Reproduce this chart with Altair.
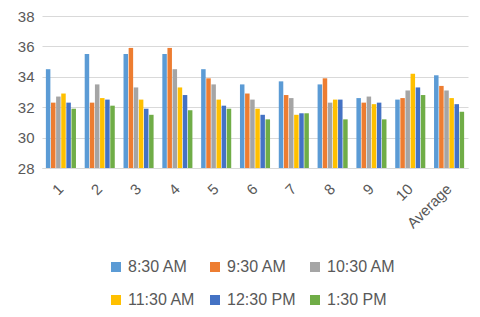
import altair as alt
import pandas as pd

categories = ["1", "2", "3", "4", "5", "6", "7", "8", "9", "10", "Average"]
series = ["8:30 AM", "9:30 AM", "10:30 AM", "11:30 AM", "12:30 PM", "1:30 PM"]
colors = ["#5B9BD5", "#ED7D31", "#A5A5A5", "#FFC000", "#4472C4", "#70AD47"]
v_0830 = [34.5, 35.5, 35.5, 35.5, 34.5, 33.5, 33.7, 33.5, 32.6, 32.5, 34.1]
v_0930 = [32.3, 32.3, 35.9, 35.9, 33.9, 32.9, 32.8, 33.9, 32.3, 32.6, 33.4]
v_1030 = [32.7, 33.5, 33.3, 34.5, 33.5, 32.5, 32.6, 32.3, 32.7, 33.1, 33.1]
v_1130 = [32.9, 32.6, 32.5, 33.3, 32.5, 31.9, 31.5, 32.5, 32.2, 34.2, 32.6]
v_1230 = [32.3, 32.5, 31.9, 32.8, 32.1, 31.5, 31.6, 32.5, 32.3, 33.3, 32.2]
v_1330 = [31.9, 32.1, 31.5, 31.8, 31.9, 31.2, 31.6, 31.2, 31.2, 32.8, 31.7]
y_ticks = [28, 30, 32, 34, 36, 38]

all_vals = [v_0830, v_0930, v_1030, v_1130, v_1230, v_1330]
rows = []
for s, vals in zip(series, all_vals):
    for c, v in zip(categories, vals):
        rows.append({"cat": c, "series": s, "value": v})
df = pd.DataFrame(rows)

FONT = "Liberation Sans"
GRAY = "#595959"

chart = alt.Chart(df).mark_bar().encode(
    x=alt.X("cat:N", sort=categories, title=None,
            scale=alt.Scale(paddingInner=0.225, paddingOuter=0.1),
            axis=alt.Axis(labelAngle=-45, labelAlign="right", labelBaseline="middle",
                          labelFont=FONT, labelFontSize=15, labelColor=GRAY,
                          labelPadding=18, ticks=False, domainColor="#D9D9D9",
                          domainWidth=1)),
    xOffset=alt.XOffset("series:N", sort=series,
                        scale=alt.Scale(paddingInner=0.12)),
    y=alt.Y("value:Q", title=None,
            scale=alt.Scale(domain=[28, 38], zero=False, nice=False),
            axis=alt.Axis(values=y_ticks, labelFont=FONT, labelFontSize=15,
                          labelColor=GRAY, domain=False, ticks=False,
                          gridColor="#D9D9D9", gridWidth=1, labelPadding=8)),
    y2=alt.datum(28),
    color=alt.Color("series:N", sort=series,
                    scale=alt.Scale(domain=series, range=colors),
                    legend=alt.Legend(title=None, orient="none", legendX=66, legendY=243,
                                      direction="horizontal", columns=3,
                                      symbolType="square", symbolSize=100,
                                      symbolStrokeWidth=0, labelFont=FONT,
                                      labelFontSize=16, labelColor=GRAY,
                                      labelOffset=4, columnPadding=11,
                                      rowPadding=17)),
).properties(
    width=426, height=152,
    autosize=alt.AutoSizeParams(type="none"),
    padding={"left": 34, "top": 8, "right": 4, "bottom": 141},
).configure_view(stroke=None)

chart.save("out.html", embed_options={"renderer": "svg", "actions": False})
